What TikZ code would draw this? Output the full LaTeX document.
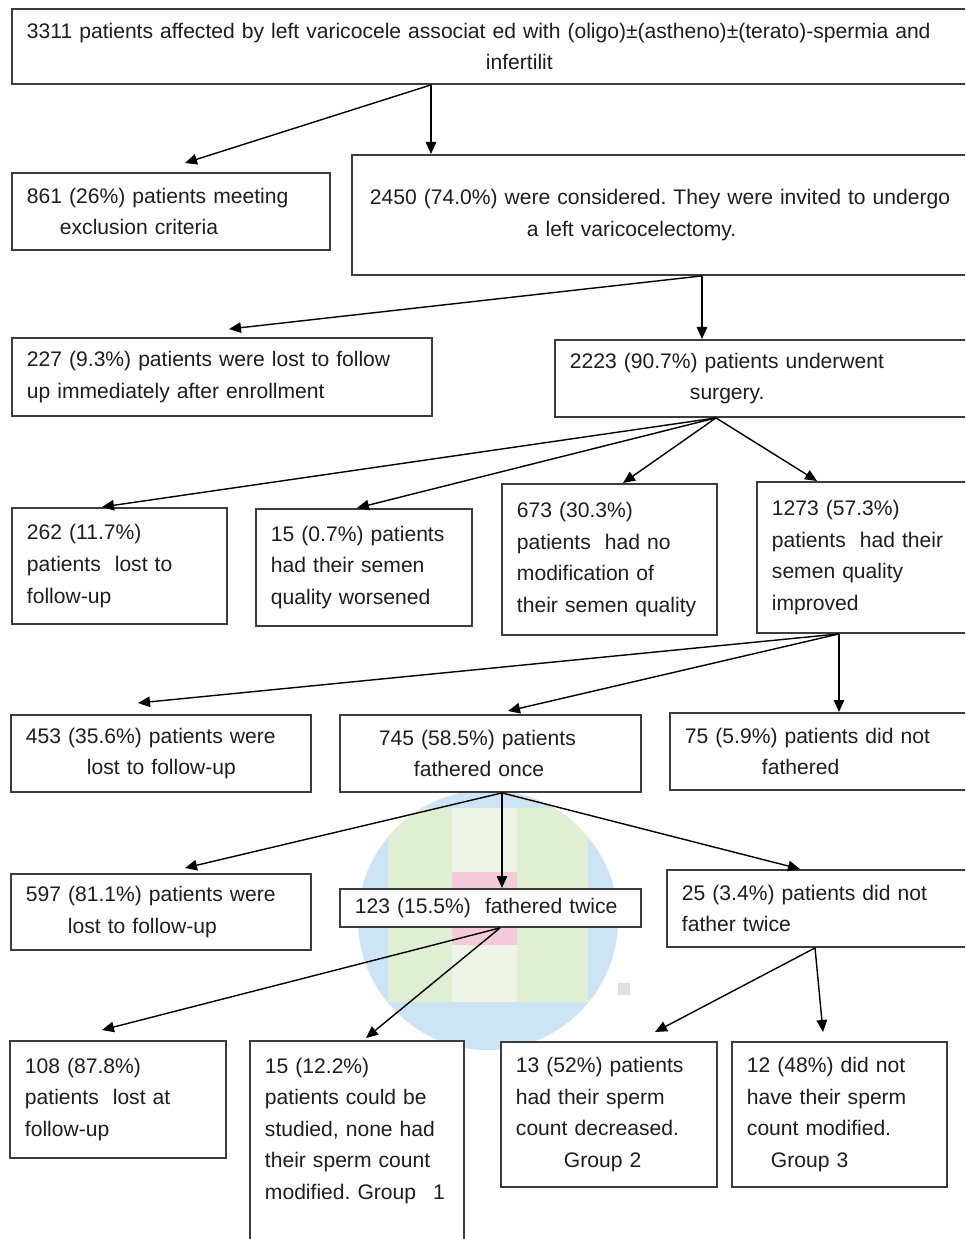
\documentclass[tikz,border=0pt]{standalone}
\usepackage{fontspec}
\setmainfont{Liberation Sans}
\usepackage{tikz}
\usetikzlibrary{
	arrows.meta,
	calc
}
\definecolor{BoxGray}{RGB}{60,60,60}
\definecolor{InkBlack}{RGB}{30,30,30}
\definecolor{BlobBlue}{RGB}{204,228,244}
\definecolor{BlobGreen}{RGB}{224,238,212}
\definecolor{BlobLight}{RGB}{238,245,232}
\definecolor{BlobPink}{RGB}{245,202,218}
\newlength{\pxu}
\setlength{\pxu}{0.02cm}
\frenchspacing
\tikzset{
	flowbox/.style={
		draw=BoxGray,
		line width=1.1pt,
		fill=white,
		anchor=north west,
		align=left,
		inner xsep=0.3cm,
		inner ysep=1pt,
		text=InkBlack,
		font=\fontsize{12}{18}\selectfont\frenchspacing
	},
	flowarrow/.style={
		-{Triangle[length=2.4mm,width=2.1mm]},
		line width=0.8pt,
		black
	}
}

\begin{document}
\begin{tikzpicture}[x=0.02cm,y=-0.02cm]

	\useasboundingbox (0,0) rectangle (965,1239);
	\clip (0,0) rectangle (965,1239);

	% faint blot behind the lower middle boxes
	\fill[BlobBlue] (488,920) circle [radius=2.6cm];
	\begin{scope}
		\clip (488,920) circle [radius=2.6cm];
		\fill[BlobGreen] (388,808) rectangle (588,1002);
		\fill[BlobLight] (452,808) rectangle (517,1002);
		\fill[BlobPink] (452,872) rectangle (517,945);
	\end{scope}
	\fill[black!12] (618,983) rectangle (630,995);

	\node[
	flowbox,
	text width=18.68cm,
	minimum height=1.50cm
	] (top) at (11,8) {3311 patients affected by left varicocele associat ed with (oligo)±(astheno)±(terato)-spermia and\\\hspace*{459\pxu}infertilit};

	\node[
	flowbox,
	text width=5.76cm,
	minimum height=1.54cm
	] (b861) at (11,172) {861 (26\%) patients meeting\\\hspace*{33\pxu}exclusion criteria};

	\node[
	flowbox,
	text width=11.88cm,
	minimum height=2.40cm
	] (b2450) at (351,154) {\hspace*{3\pxu}2450 (74.0\%) were considered. They were invited to undergo\\\hspace*{160\pxu}a left varicocelectomy.};

	\node[
	flowbox,
	text width=7.80cm,
	minimum height=1.56cm
	] (b227) at (11,337) {227 (9.3\%) patients were lost to follow\\up immediately after enrollment};

	\node[
	flowbox,
	text width=7.82cm,
	minimum height=1.54cm
	] (b2223) at (554,339) {2223 (90.7\%) patients underwent\\\hspace*{120\pxu}surgery.};

	\node[
	flowbox,
	text width=3.70cm,
	minimum height=2.32cm
	] (b262) at (11,507) {262 (11.7\%)\\patients~ lost to\\follow-up};

	\node[
	flowbox,
	text width=3.72cm,
	minimum height=2.34cm
	] (b15a) at (255,508) {15 (0.7\%) patients\\had their semen\\quality worsened};

	\node[
	flowbox,
	text width=3.70cm,
	minimum height=3.02cm
	] (b673) at (501,483) {673 (30.3\%)\\patients~ had no\\modification of\\their semen quality};

	\node[
	flowbox,
	text width=3.78cm,
	minimum height=3.02cm
	] (b1273) at (756,481) {1273 (57.3\%)\\patients~ had their\\semen quality\\improved};

	\node[
	flowbox,
	text width=5.40cm,
	minimum height=1.54cm
	] (b453) at (10,714) {453 (35.6\%) patients were\\\hspace*{61\pxu}lost to follow-up};

	\node[
	flowbox,
	text width=5.42cm,
	minimum height=1.54cm
	] (b745) at (339,714) {\hspace*{24\pxu}745 (58.5\%) patients\\\hspace*{59\pxu}fathered once};

	\node[
	flowbox,
	text width=5.52cm,
	minimum height=1.54cm
	] (b75) at (669,712) {75 (5.9\%) patients did not\\\hspace*{77\pxu}fathered};

	\node[
	flowbox,
	text width=5.40cm,
	minimum height=1.52cm
	] (b597) at (10,873) {597 (81.1\%) patients were\\\hspace*{42\pxu}lost to follow-up};

	\node[
	flowbox,
	text width=5.42cm,
	minimum height=0.76cm
	] (b123) at (339,888) {123 (15.5\%)~ fathered twice};

	\node[
	flowbox,
	text width=5.58cm,
	minimum height=1.54cm
	] (b25) at (666,869) {25 (3.4\%) patients did not\\father twice};

	\node[
	flowbox,
	text width=3.72cm,
	minimum height=2.34cm
	] (b108) at (9,1040) {108 (87.8\%)\\patients~ lost at\\follow-up};

	\node[
	flowbox,
	text width=3.68cm,
	minimum height=4.14cm
	] (b15b) at (249,1040) {15 (12.2\%)\\patients could be\\studied, none had\\their sperm count\\\mbox{modified. Group\hspace*{17\pxu}1}\\\mbox{}};

	\node[
	flowbox,
	text width=3.72cm,
	minimum height=2.90cm
	] (b13) at (500,1041) {13 (52\%) patients\\had their sperm\\count decreased.\\\hspace*{48\pxu}Group 2};

	\node[
	flowbox,
	text width=3.70cm,
	minimum height=2.90cm
	] (b12) at (731,1041) {12 (48\%) did not\\have their sperm\\count modified.\\\hspace*{24\pxu}Group 3};

	\draw[flowarrow] ($(top.south west)+(420,0)$) -- ($(b861.north west)+(174,-9)$);
	\draw[flowarrow] ($(top.south west)+(420,0)$) -- ($(b2450.north west)+(80,0)$);

	\draw[flowarrow] ($(b2450.south west)+(351,0)$) -- ($(b227.north west)+(218,-8)$);
	\draw[flowarrow] ($(b2450.south west)+(351,0)$) -- ($(b2223.north west)+(148,0)$);

	\draw[flowarrow] ($(b2223.south west)+(162,0)$) -- ($(b262.north west)+(91,0)$);
	\draw[flowarrow] ($(b2223.south west)+(162,0)$) -- ($(b15a.north west)+(102,0)$);
	\draw[flowarrow] ($(b2223.south west)+(162,0)$) -- ($(b673.north west)+(122,0)$);
	\draw[flowarrow] ($(b2223.south west)+(162,0)$) -- ($(b1273.north west)+(61,0)$);

	\draw[flowarrow] ($(b1273.south west)+(83,0)$) -- ($(b453.north west)+(128,-11)$);
	\draw[flowarrow] ($(b1273.south west)+(83,0)$) -- ($(b745.north west)+(169,-3)$);
	\draw[flowarrow] ($(b1273.south west)+(83,0)$) -- ($(b75.north west)+(170,0)$);

	\draw[flowarrow] ($(b745.south west)+(163,0)$) -- ($(b597.north west)+(175,-5)$);
	\draw[flowarrow] ($(b745.south west)+(163,0)$) -- ($(b123.north west)+(163,0)$);
	\draw[flowarrow] ($(b745.south west)+(163,0)$) -- ($(b25.north west)+(134,0)$);

	\draw[flowarrow] ($(b123.south west)+(161,0)$) -- ($(b108.north west)+(93,-10)$);
	\draw[flowarrow] ($(b123.south west)+(161,0)$) -- ($(b15b.north west)+(117,-2)$);

	\draw[flowarrow] ($(b25.south west)+(149,0)$) -- ($(b13.north west)+(155,-9)$);
	\draw[flowarrow] ($(b25.south west)+(149,0)$) -- ($(b12.north west)+(92,-9)$);

\end{tikzpicture}
\end{document}
